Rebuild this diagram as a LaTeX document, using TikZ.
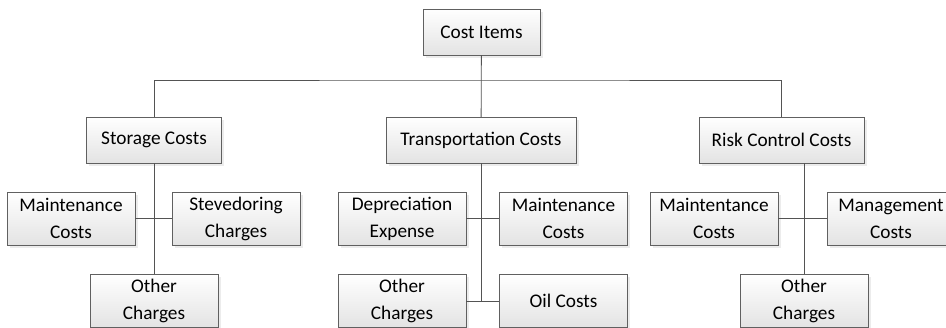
\documentclass[tikz,border=0pt]{standalone}
\usepackage{fontspec}
\setmainfont{Carlito}
\usetikzlibrary{shadows}
\tikzset{item/.style = {draw=gray!75!black, top color=white, bottom color=gray!22, drop shadow={shadow xshift=2.5pt, shadow yshift=-2.5pt, fill=gray!30}, font=\fontsize{19.3}{27}\selectfont, align=center, inner sep=0pt}}
\tikzset{head/.style = {item, minimum height=46pt}}
\tikzset{leaf/.style = {item, minimum width=128pt, minimum height=53pt}}
\tikzset{link/.style = {draw=gray!65!black, line width=0.8pt}}

\begin{document}
\begin{tikzpicture}[x=1pt, y=-1pt]
  \useasboundingbox (0,0) rectangle (946,327);
  \node [head, minimum width=117pt] (ci) at (481.5,32) {Cost Items};
  \node [head, minimum width=135pt] (sc) at (154,140) {Storage Costs};
  \node [head, minimum width=190pt] (tc) at (481,140) {Transportation Costs};
  \node [head, minimum width=165pt] (rc) at (781.5,140) {Risk Control Costs};

  \node [leaf] (sm) at (71,218.5) {Maintenance\\Costs};
  \node [leaf] (ss) at (236,218.5) {Stevedoring\\Charges};
  \node [leaf] (so) at (154,301) {Other\\Charges};

  \node [leaf] (td) at (402,218.5) {Depreciation\\Expense};
  \node [leaf] (tm) at (563.5,218.5) {Maintenance\\Costs};
  \node [leaf] (to) at (402,301) {Other\\Charges};
  \node [leaf] (tl) at (563.5,301) {Oil Costs};

  \node [leaf] (rm) at (714,218.5) {Maintentance\\Costs};
  \node [leaf] (rg) at (891,218.5) {Management\\Costs};
  \node [leaf] (ro) at (804,301) {Other\\Charges};

  \coordinate (bus) at (481,80);
  \coordinate (tend) at (481,301);

  \path [link] (ci) -- (tc);
  \path [link] (sc.north) |- (bus) -| (rc.north);

  \path [link] (sc) -- (so);
  \path [link] (sm) -- (ss);

  \path [link] (tc) -- (tend);
  \path [link] (td) -- (tm);
  \path [link] (to) -- (tl);

  \path [link] (ro.north) -- (ro.north |- rc.south);
  \path [link] (rm) -- (rg);
\end{tikzpicture}
\end{document}
